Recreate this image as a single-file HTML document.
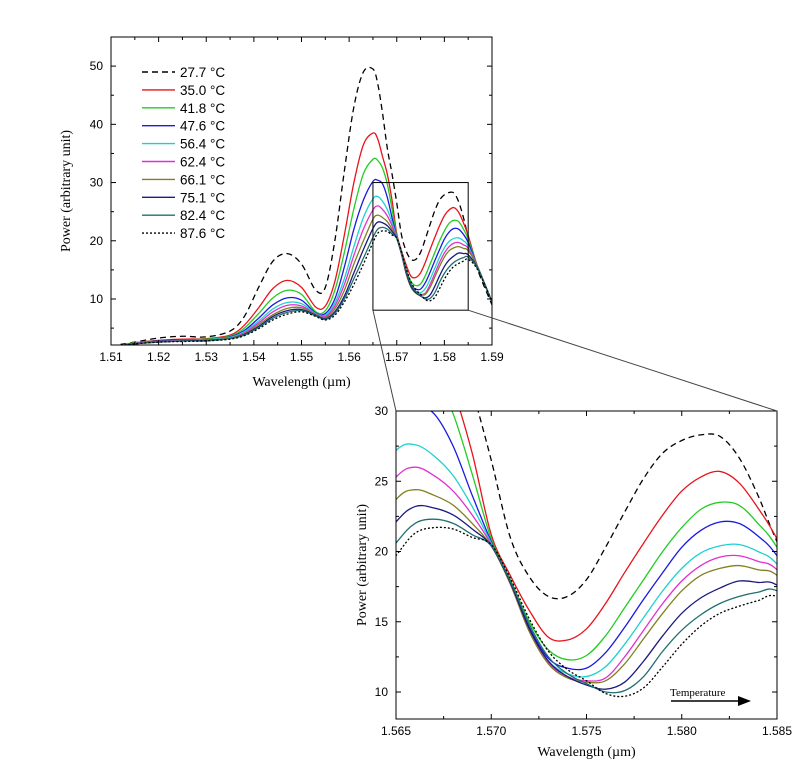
<!DOCTYPE html>
<html><head><meta charset="utf-8"><style>
body{margin:0;background:#fff;}
svg{display:block;}
.t{font-family:"Liberation Sans",Arial,sans-serif;font-size:12px;fill:#000;}
.s{font-family:"Liberation Serif",serif;font-size:14px;fill:#000;}
</style></head><body>
<svg id="c" width="800" height="766" viewBox="0 0 800 766"></svg>
<script>
const wl=[1.512,1.515,1.52,1.525,1.53,1.535,1.538,1.541,1.544,1.547,1.55,1.553,1.555,1.557,1.559,1.561,1.563,1.565,1.566,1.567,1.568,1.569,1.570,1.571,1.572,1.573,1.574,1.575,1.576,1.577,1.578,1.579,1.580,1.581,1.582,1.583,1.584,1.585,1.587,1.59];
const labels=["27.7 °C","35.0 °C","41.8 °C","47.6 °C","56.4 °C","62.4 °C","66.1 °C","75.1 °C","82.4 °C","87.6 °C"];
const s277=[2.2,2.6,3.3,3.6,3.5,4.5,7,12,16.5,17.8,16,11.5,12,20,32,43,49,49.5,47,42,36,31.5,26.5,21,18.2,16.8,16.8,18,20.3,22.8,25.2,27,27.9,28.3,28.2,26.7,24,20.7,15,9];
const s350=[2.0,2.5,2.9,3.1,3.2,3.8,5.5,8.5,11.8,13.2,12,8.6,8.8,13,21,30,36.5,38.5,37.5,34.5,31.5,27,21.2,18.3,15.8,13.9,13.7,14.5,16.3,18.5,20.6,22.6,24.3,25.3,25.7,24.9,23.1,20.9,15.5,9.5];
const s418=[2.0,2.5,2.8,3.0,3.1,3.6,5,7.5,10.2,11.5,10.8,7.8,8,11.5,18,25.5,31.5,34,33.8,32.5,29.8,25.5,20.9,18.0,15.0,13.0,12.3,12.6,14.0,16,18,20,21.7,23,23.5,23.3,22,20.3,15.5,9.5];
const s476=[2.0,2.4,2.8,3.0,3.0,3.5,4.6,6.7,9,10.2,9.8,7.6,7.5,10,15.5,22,27,30.2,30.4,29.8,27.5,24,20.7,17.8,14.6,12.4,11.7,11.7,12.8,14.6,16.6,18.5,20.3,21.5,22.1,22.0,21.1,19.7,15.5,9.5];
const s564=[2.0,2.4,2.7,2.9,3.0,3.4,4.4,6.2,8.3,9.4,9.2,7.5,7.2,9.3,13.5,19,24,27.2,27.6,26.8,25.4,23.2,20.6,17.7,14.4,12.2,11.3,11.1,11.8,13.4,15.3,17.2,18.8,19.9,20.4,20.5,20.0,19.1,15.5,9.5];
const s624=[2.0,2.4,2.7,2.9,2.9,3.3,4.2,5.9,7.8,8.9,8.8,7.4,7,8.8,12.5,17.5,22,25.3,26.0,25.4,24.3,22.6,20.5,17.7,14.3,12.1,11.1,10.8,11.0,12.5,14.4,16.3,17.9,19.0,19.6,19.7,19.3,18.7,15.5,9.5];
const s661=[2.0,2.3,2.7,2.8,2.9,3.3,4.0,5.6,7.3,8.4,8.5,7.3,6.8,8.3,11.5,16,20,23.7,24.4,24.0,23.3,22.0,20.4,17.7,14.3,12.0,11.0,10.7,10.8,12.0,13.8,15.6,17.2,18.3,18.8,19.0,18.7,18.3,15.5,9.5];
const s751=[2.0,2.3,2.6,2.8,2.9,3.2,3.9,5.3,7,8.0,8.2,7.2,6.6,7.8,10.5,14.5,18.5,22.1,23.2,23.1,22.6,21.6,20.4,17.8,14.5,12.2,11.1,10.5,10.2,10.7,12.2,14,15.6,16.7,17.4,17.9,17.8,17.6,15.3,9.5];
const s824=[2.0,2.3,2.6,2.8,2.8,3.2,3.8,5.1,6.7,7.7,8.0,7.1,6.5,7.5,10,13.5,17,20.6,22.0,22.3,22.0,21.2,20.4,17.9,14.8,12.5,11.3,10.6,10.0,10.1,11.1,12.9,14.4,15.5,16.3,16.8,17.1,17.2,15.2,9.5];
const s876=[2.0,2.3,2.6,2.7,2.8,3.1,3.7,4.9,6.4,7.4,7.8,7.0,6.4,7.2,9.5,12.5,16,19.7,21.3,21.7,21.6,21.0,20.5,18.1,15.2,12.9,11.6,10.8,9.9,9.7,10.3,11.8,13.4,14.7,15.6,16.1,16.5,16.8,15,9.5];
const series=[s277,s350,s418,s476,s564,s624,s661,s751,s824,s876];
const colors=["#000","#e8141c","#22cc22","#1a1ae0","#20d0d0","#e030d0","#808020","#1a1a80","#207070","#000"];
const dashes=["6,4","","","","","","","","","2,2"];
const mainXT=["1.51","1.52","1.53","1.54","1.55","1.56","1.57","1.58","1.59"];
const mainYT=["10","20","30","40","50"];
const insXT=["1.565","1.570","1.575","1.580","1.585"];
const insYT=["10","15","20","25","30"];

const NS="http://www.w3.org/2000/svg",svg=document.getElementById('c');
function el(t,a,p){const e=document.createElementNS(NS,t);for(const k in a)e.setAttribute(k,a[k]);(p||svg).appendChild(e);return e;}
function lin(d0,d1,r0,r1){return v=>r0+(v-d0)/(d1-d0)*(r1-r0);}
function path(xs,ys,fx,fy){const P=xs.map((x,i)=>[fx(x),fy(ys[i])]);let d="M"+P[0][0].toFixed(2)+","+P[0][1].toFixed(2);
for(let i=0;i<P.length-1;i++){const p0=P[Math.max(0,i-1)],p1=P[i],p2=P[i+1],p3=P[Math.min(P.length-1,i+2)];
d+="C"+(p1[0]+(p2[0]-p0[0])/6).toFixed(2)+","+(p1[1]+(p2[1]-p0[1])/6).toFixed(2)+" "+(p2[0]-(p3[0]-p1[0])/6).toFixed(2)+","+(p2[1]-(p3[1]-p1[1])/6).toFixed(2)+" "+p2[0].toFixed(2)+","+p2[1].toFixed(2);}return d;}

function panel(o){
  const g=el('g',{});
  
  
  const fx=lin(o.x0,o.x1,o.L,o.R),fy=lin(o.y0,o.y1,o.B,o.T);
  const cp=el('clipPath',{id:o.name+'-clip'},g);el('rect',{x:o.L,y:o.T,width:o.R-o.L,height:o.B-o.T},cp);
  const lg=el('g',{'clip-path':'url(#'+o.name+'-clip)'},g);
  series.forEach((s,i)=>{const p=el('path',{d:path(wl,s,fx,fy),fill:'none',stroke:colors[i],'stroke-width':1.3,'stroke-dasharray':dashes[i]},lg);
    
    });
  const fr=el('rect',{x:o.L,y:o.T,width:o.R-o.L,height:o.B-o.T,fill:'none',stroke:'#000','stroke-width':1},g);
  
  for(let v=o.x0;v<=o.x1+1e-9;v+=o.xm){const x=fx(v);const major=Math.abs(Math.round((v-o.x0)/o.xs)*o.xs-(v-o.x0))<1e-9;const l=major?5:3;
    el('line',{x1:x,x2:x,y1:o.B,y2:o.B-l,stroke:'#000'},g);el('line',{x1:x,x2:x,y1:o.T,y2:o.T+l,stroke:'#000'},g);}
  o.xt.forEach(t=>{const tx=el('text',{x:fx(+t),y:o.B+16,'text-anchor':'middle',class:'t'},g);tx.textContent=t;
    });
  for(let v=o.ym0;v<=o.y1+1e-9;v+=o.ym){const y=fy(v);const major=o.yt.includes(String(Math.round(v*10)/10));const l=major?5:3;
    el('line',{x1:o.L,x2:o.L+l,y1:y,y2:y,stroke:'#000'},g);el('line',{x1:o.R,x2:o.R-l,y1:y,y2:y,stroke:'#000'},g);}
  o.yt.forEach(t=>{const tx=el('text',{x:o.L-8,y:fy(+t)+4,'text-anchor':'end',class:'t'},g);tx.textContent=t;
    });
  const xl=el('text',{x:(o.L+o.R)/2,y:o.B+o.xto,'text-anchor':'middle',class:'s'},g);xl.textContent='Wavelength (µm)';
  
  const yx=o.L-o.yto,yy=(o.T+o.B)/2;
  const yl=el('text',{x:yx,y:yy,'text-anchor':'middle',class:'s',transform:'rotate(-90 '+yx+' '+yy+')'},g);yl.textContent='Power (arbitrary unit)';
  
  return {fx,fy};
}
const m=panel({name:'main-chart',L:111,R:492,T:37,B:345,x0:1.51,x1:1.59,y0:2.1,y1:55,xs:0.01,xm:0.005,xt:mainXT,yt:mainYT,ym0:5,ym:5,xto:41,yto:41});
panel({name:'inset-chart',L:396,R:777,T:411,B:719,x0:1.565,x1:1.585,y0:8.08,y1:30,xs:0.005,xm:0.0025,xt:insXT,yt:insYT,ym0:10,ym:2.5,xto:37,yto:30});

const zx0=m.fx(1.565),zx1=m.fx(1.585),zy0=m.fy(30),zy1=m.fy(8.08);
const zb=el('rect',{x:zx0,y:zy0,width:zx1-zx0,height:zy1-zy0,fill:'none',stroke:'#000','stroke-width':1});

const c1=el('line',{x1:zx0,y1:zy1,x2:396,y2:411,stroke:'#444','stroke-width':1});

const c2=el('line',{x1:zx1,y1:zy1,x2:777,y2:411,stroke:'#444','stroke-width':1});


const lg=el('g',{});
labels.forEach((l,i)=>{const y=72+i*17.9;const e=el('g',{},lg);
  
  el('line',{x1:142,x2:175,y1:y,y2:y,stroke:colors[i],'stroke-width':1.4,'stroke-dasharray':dashes[i]},e);
  const t=el('text',{x:180,y:y+5,class:'t'},e);t.style.fontSize='13.5px';t.textContent=l;});

const ta=el('g',{});
const tt=el('text',{x:670,y:696,class:'s'},ta);tt.style.fontSize='11px';tt.textContent='Temperature';
el('line',{x1:671,y1:701,x2:740,y2:701,stroke:'#000','stroke-width':1.5},ta);
el('polygon',{points:'738,696 751,701 738,706',fill:'#000'},ta);
</script>
</body></html>
